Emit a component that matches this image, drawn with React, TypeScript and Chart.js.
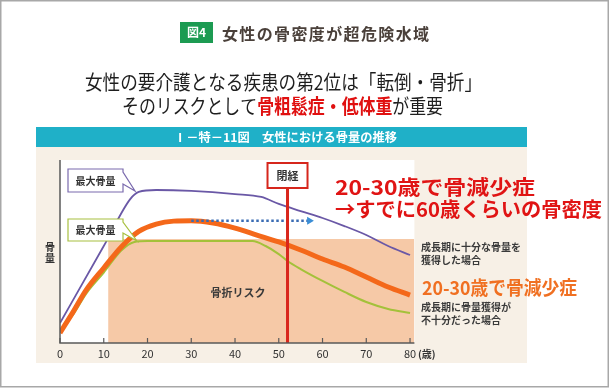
import React, { useEffect, useRef } from "react";
import { Chart, registerables } from "chart.js";
Chart.register(...registerables);

// ---- data ----
const xTicks = [0, 10, 20, 30, 40, 50, 60, 70, 80];

const purpleAges = [0, 10, 16, 18, 22, 30, 40, 46, 50, 55, 60, 65, 70, 75, 80];
const purpleVals = [10.9, 53, 78.5, 82.6, 83.6, 83.1, 81.4, 79.8, 76.0, 72.1, 68.3, 63.9, 59.0, 53.0, 48.1];

const orangeAges = [0, 3, 6, 10, 14, 18, 22, 26, 30, 35, 40, 45, 50, 55, 60, 65, 70, 75, 80];
const orangeVals = [5.5, 17, 29, 41, 52.5, 61, 65, 66.6, 66.8, 65.6, 62.8, 59, 55.2, 50.8, 45.9, 41.5, 36.1, 30.6, 26.2];

const greenAges = [0, 3, 6, 10, 14, 17, 20, 44, 47, 50, 52, 55, 60, 65, 70, 75, 80];
const greenVals = [7, 15.5, 27, 38.5, 50.5, 55.2, 55.7, 55.7, 53, 48.6, 44.8, 40.4, 33.9, 27.9, 22.4, 18.6, 16.4];

const riskStart = 11;
const riskEnd = 81;
const riskLevel = 56.8;

const menopauseAge = 52;
const menopauseTop = 84.7;

const arrowFrom = 30;
const arrowTo = 57;
const arrowLevel = 66.8;

const FONT = '"Noto Sans CJK JP", "Noto Sans", sans-serif';

function fitText(ctx: CanvasRenderingContext2D, s: string, x: number, y: number, w: number) {
  const m = ctx.measureText(s).width;
  const sx = w / m;
  ctx.save();
  ctx.translate(x, y);
  ctx.scale(sx, 1);
  ctx.textAlign = "left";
  ctx.fillText(s, 0, 0);
  ctx.restore();
}

function spacedText(ctx: CanvasRenderingContext2D, s: string, x: number, y: number, w: number) {
  const chars = Array.from(s);
  let total = 0;
  const ws = chars.map((c) => {
    const m = ctx.measureText(c).width;
    total += m;
    return m;
  });
  const gap = (w - total) / (chars.length - 1);
  let cx = x;
  ctx.textAlign = "left";
  chars.forEach((c, i) => {
    ctx.fillText(c, cx, y);
    cx += ws[i] + gap;
  });
}

function txt(ctx: CanvasRenderingContext2D, s: string, x: number, y: number, font: string, color: string, align: CanvasTextAlign = "left") {
  ctx.font = font;
  ctx.fillStyle = color;
  ctx.textAlign = align;
  ctx.textBaseline = "middle";
  ctx.fillText(s, x, y);
}

function callout(ctx: CanvasRenderingContext2D, x: number, y: number, w: number, h: number, tipX: number, tipY: number, color: string, label: string) {
  ctx.save();
  ctx.fillStyle = "#ffffff";
  ctx.strokeStyle = color;
  ctx.lineWidth = 1.2;
  ctx.beginPath();
  ctx.moveTo(x, y);
  ctx.lineTo(x + w, y);
  ctx.lineTo(x + w, y + 3);
  ctx.lineTo(tipX, tipY);
  ctx.lineTo(x + w, y + h - 8);
  ctx.lineTo(x + w, y + h);
  ctx.lineTo(x, y + h);
  ctx.closePath();
  ctx.fill();
  ctx.stroke();
  ctx.restore();
  txt(ctx, label, x + w / 2, y + h / 2 + 0.5, `bold 10px ${FONT}`, "#333333", "center");
}

const decorPlugin = {
  id: "decor",
  beforeDraw(chart: any) {
    const ctx: CanvasRenderingContext2D = chart.ctx;
    const { left, right, top, bottom } = chart.chartArea;
    ctx.save();
    ctx.fillStyle = "#ffffff";
    ctx.fillRect(0, 0, chart.width, chart.height);
    ctx.strokeStyle = "#a8a8a8";
    ctx.lineWidth = 1.5;
    ctx.strokeRect(0.75, 0.75, 607.5, 386);

    // title
    ctx.fillStyle = "#1c9b52";
    ctx.fillRect(180, 22, 33, 21);
    txt(ctx, "図4", 196.5, 32.5, `bold 12px ${FONT}`, "#ffffff", "center");
    ctx.font = `bold 16px ${FONT}`;
    ctx.fillStyle = "#4a403a";
    ctx.textBaseline = "middle";
    spacedText(ctx, "女性の骨密度が超危険水域", 222, 33.5, 207);

    // subtitles
    ctx.font = `20px ${FONT}`;
    ctx.fillStyle = "#1e1e1e";
    fitText(ctx, "女性の要介護となる疾患の第2位は「転倒・骨折」", 85, 82, 397);

    const parts: [string, string, string][] = [
      ["そのリスクとして", "#1e1e1e", `20px ${FONT}`],
      ["骨粗鬆症・低体重", "#e01010", `bold 20px ${FONT}`],
      ["が重要", "#1e1e1e", `20px ${FONT}`],
    ];
    let total = 0;
    const widths: number[] = [];
    for (const p of parts) {
      ctx.font = p[2];
      const w = ctx.measureText(p[0]).width;
      widths.push(w);
      total += w;
    }
    const sx = (443 - 122) / total;
    let cx = 122;
    parts.forEach((p, i) => {
      ctx.font = p[2];
      ctx.fillStyle = p[1];
      ctx.save();
      ctx.translate(cx, 106);
      ctx.scale(sx, 1);
      ctx.textAlign = "left";
      ctx.fillText(p[0], 0, 0);
      ctx.restore();
      cx += widths[i] * sx;
    });

    // teal header
    ctx.fillStyle = "#1fb0c8";
    ctx.fillRect(36, 127, 491, 20);
    ctx.font = `bold 12px ${FONT}`;
    ctx.fillStyle = "#ffffff";
    fitText(ctx, "Ⅰ－特－11図　女性における骨量の推移", 174, 137.5, 223);

    // beige panel
    ctx.fillStyle = "#f7f0e6";
    ctx.fillRect(36, 147, 491, 216);

    // white plot area
    ctx.fillStyle = "#ffffff";
    ctx.fillRect(left, top, right - left, bottom - top);
    ctx.restore();
  },
  afterDatasetsDraw(chart: any) {
    const ctx: CanvasRenderingContext2D = chart.ctx;
    const xs = chart.scales.x;
    const ys = chart.scales.y;
    const { left, right, top, bottom } = chart.chartArea;
    ctx.save();
    // axes
    ctx.strokeStyle = "#5a5a5a";
    ctx.lineWidth = 1.5;
    ctx.beginPath();
    ctx.moveTo(left, top);
    ctx.lineTo(left, bottom);
    ctx.lineTo(right, bottom);
    ctx.stroke();
    ctx.lineWidth = 1.2;
    for (const t of xTicks) {
      const px = xs.getPixelForValue(t);
      ctx.beginPath();
      ctx.moveTo(px, bottom);
      ctx.lineTo(px, bottom - 5);
      ctx.stroke();
      txt(ctx, String(t), px, bottom + 11, `11px ${FONT}`, "#333333", "center");
    }
    txt(ctx, "(歳)", xs.getPixelForValue(80) + 8, bottom + 11, `bold 10px ${FONT}`, "#333333", "left");

    // y axis label
    txt(ctx, "骨", 50, 247, `bold 10px ${FONT}`, "#333333", "center");
    txt(ctx, "量", 50, 258, `bold 10px ${FONT}`, "#333333", "center");

    // risk label
    txt(ctx, "骨折リスク", 238, 293, `bold 11px ${FONT}`, "#3a3a3a", "center");

    // callouts
    callout(ctx, 68, 169, 55, 23, 135, 191, "#7a6aae", "最大骨量");
    callout(ctx, 68, 219, 55, 22, 137, 241, "#a8c040", "最大骨量");

    // menopause box
    const mx = xs.getPixelForValue(menopauseAge);
    const boxBottom = ys.getPixelForValue(menopauseTop);
    ctx.fillStyle = "#ffffff";
    ctx.fillRect(mx - 20, 163, 40, boxBottom - 163);
    ctx.strokeStyle = "#d6261c";
    ctx.lineWidth = 2;
    ctx.strokeRect(mx - 20, 163, 40, boxBottom - 163);
    txt(ctx, "閉経", mx, 175.5, `bold 11px ${FONT}`, "#333333", "center");

    // right annotations
    txt(ctx, "成長期に十分な骨量を", 421, 247, `bold 10px ${FONT}`, "#3a3a3a");
    txt(ctx, "獲得した場合", 421, 260, `bold 10px ${FONT}`, "#3a3a3a");
    ctx.font = `bold 19px ${FONT}`;
    ctx.fillStyle = "#f07022";
    ctx.textBaseline = "middle";
    fitText(ctx, "20-30歳で骨減少症", 422, 288, 155);
    txt(ctx, "成長期に骨量獲得が", 421, 307, `bold 10px ${FONT}`, "#3a3a3a");
    txt(ctx, "不十分だった場合", 421, 320, `bold 10px ${FONT}`, "#3a3a3a");

    // big red message
    ctx.font = `bold 20px ${FONT}`;
    ctx.fillStyle = "#e01414";
    ctx.textBaseline = "middle";
    fitText(ctx, "20-30歳で骨減少症", 335, 187, 200);
    fitText(ctx, "→すでに60歳くらいの骨密度", 335, 209, 267);
    ctx.restore();
  },
};

const pts = (a: number[], v: number[]) => a.map((x, i) => ({ x, y: v[i] }));

export default function App() {
  const ref = useRef<HTMLCanvasElement>(null);
  useEffect(() => {
    if (!ref.current) return;
    const chart = new Chart(ref.current, {
      type: "line",
      data: {
        datasets: [
          {
            label: "risk",
            data: [{ x: riskStart, y: riskLevel }, { x: riskEnd, y: riskLevel }],
            fill: "origin",
            backgroundColor: "#f6c9a7",
            borderWidth: 0,
            pointRadius: 0,
            order: 10,
          },
          {
            label: "green",
            data: pts(greenAges, greenVals),
            borderColor: "#a4c13a",
            borderWidth: 2,
            pointRadius: 0,
            cubicInterpolationMode: "monotone",
            fill: false,
            order: 6,
          },
          {
            label: "purple",
            data: pts(purpleAges, purpleVals),
            borderColor: "#6a58a6",
            borderWidth: 1.8,
            pointRadius: 0,
            cubicInterpolationMode: "monotone",
            fill: false,
            order: 5,
          },
          {
            label: "orange",
            data: pts(orangeAges, orangeVals),
            borderColor: "#f4681a",
            borderWidth: 5,
            pointRadius: 0,
            cubicInterpolationMode: "monotone",
            fill: false,
            order: 4,
          },
          {
            label: "arrow",
            data: [{ x: arrowFrom, y: arrowLevel }, { x: arrowTo, y: arrowLevel }],
            borderColor: "#3a6cb4",
            borderWidth: 2.5,
            borderDash: [2.5, 2.5],
            pointRadius: [0, 4.5],
            pointStyle: "triangle",
            pointRotation: 90,
            pointBackgroundColor: "#3b8ed6",
            pointBorderWidth: 0,
            fill: false,
            order: 3,
          },
          {
            label: "menopause",
            data: [{ x: menopauseAge, y: 0 }, { x: menopauseAge, y: menopauseTop }],
            borderColor: "#d9261c",
            borderWidth: 3,
            pointRadius: 0,
            fill: false,
            order: 1,
          },
        ],
      } as any,
      options: {
        animation: false,
        responsive: false,
        events: [],
        layout: { padding: { left: 60, top: 160, right: 195.6, bottom: 45 } },
        plugins: { legend: { display: false }, tooltip: { enabled: false } },
        scales: {
          x: { type: "linear", min: 0, max: 81, display: false },
          y: { type: "linear", min: 0, max: 100, display: false },
        },
      } as any,
      plugins: [decorPlugin],
    });
    return () => chart.destroy();
  }, []);
  return (
    <div style={{ position: "absolute", left: 0, top: 0, width: 610, height: 388 }}>
      <canvas ref={ref} width={610} height={388} style={{ display: "block" }} />
    </div>
  );
}
